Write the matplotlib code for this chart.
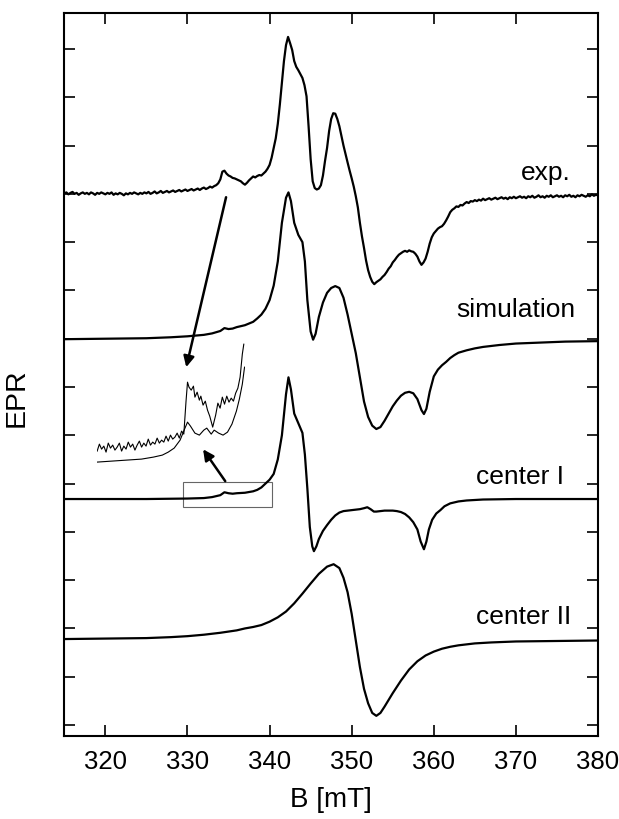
import numpy as np
import matplotlib.pyplot as plt

plt.rcParams['font.family'] = ['Liberation Sans', 'DejaVu Sans']

# experimental trace, sampled every 0.25 mT from 315 to 380 mT
b_exp = np.linspace(315, 380, 261)
exp_signal = [
    11.01, 11.03, 10.99, 11.02, 11.04, 11.00, 11.02, 10.98, 11.01, 11.03, 11.00, 11.02, 10.99, 11.03, 11.01, 10.98, 11.02, 11.00, 11.03, 11.01,
    10.99, 11.02, 11.00, 11.03, 10.98, 11.01, 10.99, 11.02, 11.00, 10.97, 11.01, 10.99, 11.02, 11.00, 11.03, 11.01, 10.99, 11.02, 11.00, 11.03,
    11.01, 11.04, 11.00, 11.02, 11.05, 11.01, 11.03, 11.06, 11.02, 11.04, 11.06, 11.03, 11.05, 11.07, 11.04, 11.06, 11.08, 11.05, 11.07, 11.09,
    11.06, 11.08, 11.10, 11.07, 11.09, 11.11, 11.08, 11.11, 11.13, 11.10, 11.12, 11.15, 11.13, 11.16, 11.18, 11.22, 11.30, 11.46, 11.48, 11.42,
    11.38, 11.36, 11.33, 11.32, 11.30, 11.28, 11.26, 11.22, 11.19, 11.23, 11.28, 11.32, 11.36, 11.34, 11.37, 11.39, 11.38, 11.42, 11.46, 11.52,
    11.60, 11.75, 11.95, 12.15, 12.45, 12.85, 13.30, 13.75, 14.08, 14.25, 14.12, 13.98, 13.75, 13.63, 13.56, 13.48, 13.40, 13.25, 13.02, 12.40,
    11.72, 11.26, 11.12, 11.09, 11.11, 11.18, 11.38, 11.68, 11.95, 12.30, 12.55, 12.67, 12.66, 12.55, 12.40, 12.20, 12.00, 11.82, 11.65, 11.48,
    11.32, 11.15, 10.95, 10.72, 10.40, 10.12, 9.88, 9.62, 9.42, 9.28, 9.18, 9.13, 9.17, 9.20, 9.23, 9.28, 9.32, 9.38, 9.45, 9.50,
    9.58, 9.63, 9.69, 9.74, 9.77, 9.80, 9.82, 9.80, 9.83, 9.81, 9.80, 9.76, 9.70, 9.60, 9.53, 9.58, 9.66, 9.80, 9.97, 10.10,
    10.18, 10.23, 10.28, 10.31, 10.33, 10.38, 10.45, 10.53, 10.62, 10.67, 10.70, 10.74, 10.73, 10.77, 10.76, 10.80, 10.83, 10.81, 10.85, 10.84,
    10.87, 10.85, 10.88, 10.86, 10.90, 10.87, 10.89, 10.91, 10.88, 10.90, 10.92, 10.89, 10.91, 10.93, 10.90, 10.92, 10.89, 10.93, 10.91, 10.94,
    10.91, 10.93, 10.95, 10.92, 10.94, 10.91, 10.95, 10.93, 10.96, 10.92, 10.94, 10.97, 10.93, 10.95, 10.92, 10.96, 10.94, 10.97, 10.93, 10.95,
    10.97, 10.94, 10.96, 10.93, 10.97, 10.95, 10.98, 10.94, 10.96, 10.93, 10.97, 10.95, 10.98, 10.96, 10.94, 10.97, 10.95, 10.99, 10.96, 10.98,
    10.97,
]

b_sim = [315, 320, 325, 328, 330, 332, 333, 334, 334.5, 335, 335.5, 336, 337, 338, 338.5, 339, 339.5, 340,
         340.5, 341, 341.5, 342, 342.3, 342.6, 343.0, 343.5, 344.0, 344.3, 344.6, 345.0, 345.3, 345.6, 346.0,
         346.5, 347.0, 347.5, 348.0, 348.5, 349.0, 349.5, 350.0, 350.5, 351.0, 351.5, 352.0, 352.5, 353.0,
         353.5, 354.0, 354.5, 355.0, 355.5, 356.0, 356.5, 357.0, 357.5, 358.0, 358.5, 358.8, 359.1, 359.5,
         360.0, 360.5, 361.0, 361.5, 362.0, 362.5, 363.0, 364, 365, 366, 368, 370, 373, 376, 380]
sim_signal = [7.99, 8.00, 8.01, 8.03, 8.05, 8.08, 8.11, 8.16, 8.22, 8.20, 8.21, 8.24, 8.28, 8.35, 8.42, 8.50, 8.62, 8.80,
              9.10, 9.60, 10.40, 10.92, 11.03, 10.85, 10.40, 10.15, 10.00, 9.60, 8.80, 8.15, 7.98, 8.10, 8.45,
              8.75, 8.95, 9.05, 9.09, 9.05, 8.85, 8.50, 8.10, 7.70, 7.20, 6.70, 6.38, 6.20, 6.13,
              6.17, 6.30, 6.45, 6.60, 6.72, 6.82, 6.88, 6.90, 6.87, 6.75, 6.52, 6.44, 6.55, 6.90,
              7.22, 7.36, 7.45, 7.52, 7.60, 7.66, 7.71, 7.76, 7.80, 7.83, 7.87, 7.90, 7.92, 7.94, 7.95]

b_c1 = [315, 325, 330, 332, 333, 334, 334.5, 335, 335.5, 336, 337, 338, 338.5, 339, 339.5, 340, 340.5, 341,
        341.5, 342, 342.3, 342.6, 343.0, 343.5, 344.0, 344.3, 344.6, 344.9, 345.2, 345.4, 345.7, 346.0,
        346.5, 347.0, 347.5, 348.0, 348.5, 349.0, 349.5, 350.0, 350.5, 351.0, 351.5, 351.9, 352.3, 352.7,
        353.0, 353.5, 354.0, 354.5, 355.0, 355.5, 356.0, 356.5, 357.0, 357.5, 358.0, 358.4, 358.8, 359.1,
        359.4, 359.8, 360.3, 360.8, 361.3, 362.0, 363.0, 364, 366, 370, 380]
c1_signal = [4.68, 4.68, 4.69, 4.70, 4.72, 4.76, 4.82, 4.80, 4.79, 4.80, 4.81, 4.84, 4.87, 4.92, 5.00, 5.08, 5.20, 5.50,
             6.00, 6.85, 7.20, 6.95, 6.45, 6.25, 6.05, 5.60, 4.90, 4.10, 3.70, 3.60, 3.70, 3.85,
             4.02, 4.14, 4.25, 4.34, 4.40, 4.43, 4.44, 4.45, 4.46, 4.47, 4.49, 4.51, 4.47, 4.42,
             4.42, 4.43, 4.44, 4.44, 4.44, 4.43, 4.41, 4.37, 4.30, 4.20, 4.05, 3.80, 3.64, 3.80,
             4.05, 4.25, 4.38, 4.45, 4.53, 4.59, 4.63, 4.65, 4.67, 4.68, 4.68]

b_c2 = [315, 320, 325, 328, 330, 332, 334, 336, 337, 338, 339, 340, 341, 342, 343, 344, 345, 346, 347,
        347.8, 348.5, 349, 349.5, 350, 350.5, 351, 351.5, 352, 352.5, 353, 353.5, 354, 354.5, 355, 356,
        357, 358, 359, 360, 361, 362, 363, 365, 367, 370, 375, 380]
c2_signal = [1.78, 1.79, 1.80, 1.82, 1.84, 1.87, 1.91, 1.96, 2.00, 2.03, 2.07, 2.14, 2.23, 2.35, 2.52, 2.72, 2.93, 3.13, 3.28,
             3.33, 3.25, 3.05, 2.75, 2.30, 1.75, 1.20, 0.75, 0.45, 0.25, 0.19, 0.25, 0.38, 0.52, 0.66, 0.92,
             1.15, 1.32, 1.44, 1.52, 1.58, 1.62, 1.65, 1.69, 1.71, 1.73, 1.74, 1.75]

# magnified view of the 330-340 mT region
b_zoom_exp = [330.0, 330.15, 330.3, 330.45, 330.6, 330.75, 330.9, 331.05, 331.2, 331.35, 331.5, 331.65, 331.8,
              331.95, 332.1, 332.25, 332.4, 332.55, 332.7, 332.85, 333.0, 333.15, 333.3, 333.45, 333.6, 333.75,
              333.9, 334.05, 334.2, 334.35, 334.5, 334.65, 334.8, 334.95, 335.1, 335.25, 335.4, 335.55, 335.7,
              335.85, 336.0, 336.1, 336.2, 336.35, 336.5, 336.6, 336.75, 336.9, 337.0, 337.15, 337.3, 337.45,
              337.6, 337.8, 338.0, 338.15, 338.3, 338.45, 338.6, 338.75, 338.9, 339.05, 339.2, 339.35, 339.5,
              339.65, 339.8, 339.9]
zoom_exp = [1.8, 2.5, 2.0, 2.3, 1.7, 2.6, 2.1, 2.4, 1.9, 2.2, 2.6, 1.8, 2.3,
            2.0, 2.7, 2.2, 2.5, 1.9, 2.4, 2.8, 2.2, 2.6, 2.3, 3.0, 2.4, 2.7,
            2.5, 3.1, 2.6, 2.9, 2.7, 3.3, 2.8, 3.4, 3.0, 3.2, 3.6, 3.1, 3.8,
            3.5, 6.8, 8.7, 8.2, 7.9, 8.3, 7.2, 7.7, 6.9, 7.3, 6.4, 6.8, 5.9,
            5.3, 4.2, 5.4, 6.6, 6.1, 7.2, 6.5, 7.3, 6.7, 7.1, 6.8, 7.6, 8.1,
            9.2, 11.5, 12.5]
b_zoom_sim = [330.0, 331.0, 332.0, 333.0, 333.8, 334.4, 334.8, 335.2, 335.6, 335.9, 336.1, 336.3, 336.6,
              336.9, 337.2, 337.4, 337.7, 337.9, 338.2, 338.5, 338.8, 339.1, 339.4, 339.6, 339.8, 339.95]
zoom_sim = [0.7, 0.8, 0.9, 1.0, 1.2, 1.4, 1.7, 2.1, 2.9, 4.0, 4.7, 4.3, 3.6,
            3.4, 3.9, 4.1, 3.5, 3.9, 3.6, 3.4, 3.7, 4.5, 5.8, 7.0, 8.5, 10.2]

labels = ['exp.', 'simulation', 'center I', 'center II']
label_pos = [(370.6, 11.45), (362.7, 8.61), (365.2, 5.16), (365.2, 2.26)]

fig = plt.figure(figsize=(6.19, 8.20), dpi=100)
ax = fig.add_axes([0.1039, 0.1012, 0.8622, 0.8817])

lw = 1.6
ax.plot(b_exp, exp_signal, color='black', lw=lw)
ax.plot(b_sim, sim_signal, color='black', lw=lw)
ax.plot(b_c1, c1_signal, color='black', lw=lw)
ax.plot(b_c2, c2_signal, color='black', lw=lw)

for text, (x, y) in zip(labels, label_pos):
    ax.text(x, y, text, fontsize=19, ha='left', va='center')

# box marking the magnified region on the center I trace
ax.add_patch(plt.Rectangle((329.5, 4.51), 10.8, 0.52, fill=False, edgecolor='#666666', lw=0.8))

arrow = dict(arrowstyle='-|>', color='black', lw=1.8, mutation_scale=16, shrinkA=0, shrinkB=0)
ax.annotate('', xy=(329.85, 7.41), xytext=(334.7, 10.93), arrowprops=arrow)
ax.annotate('', xy=(331.9, 5.71), xytext=(334.6, 5.05), arrowprops=arrow)

ins = ax.inset_axes([319.0, 5.30, 18.04, 2.69], transform=ax.transData)
ins.plot(b_zoom_exp, zoom_exp, color='black', lw=0.8)
ins.plot(b_zoom_sim, zoom_sim, color='black', lw=0.8)
ins.set_xlim(330, 340)
ins.set_ylim(0, 13)
ins.axis('off')

ax.set_xlim(315, 380)
ax.set_ylim(-0.228, 14.745)
ax.set_xticks(np.arange(320, 381, 10))
ax.set_yticks(np.arange(0, 15))
ax.set_yticklabels([])
ax.tick_params(direction='in', length=8, width=1.2, top=True, right=True, labelsize=18.5, pad=9)
for s in ax.spines.values():
    s.set_linewidth(1.5)

ax.set_xlabel('B [mT]', fontsize=20, labelpad=10)
ax.set_ylabel('EPR', fontsize=20.5)
ax.yaxis.set_label_coords(-0.065, 0.47)

fig.savefig('out.png', dpi=100)
